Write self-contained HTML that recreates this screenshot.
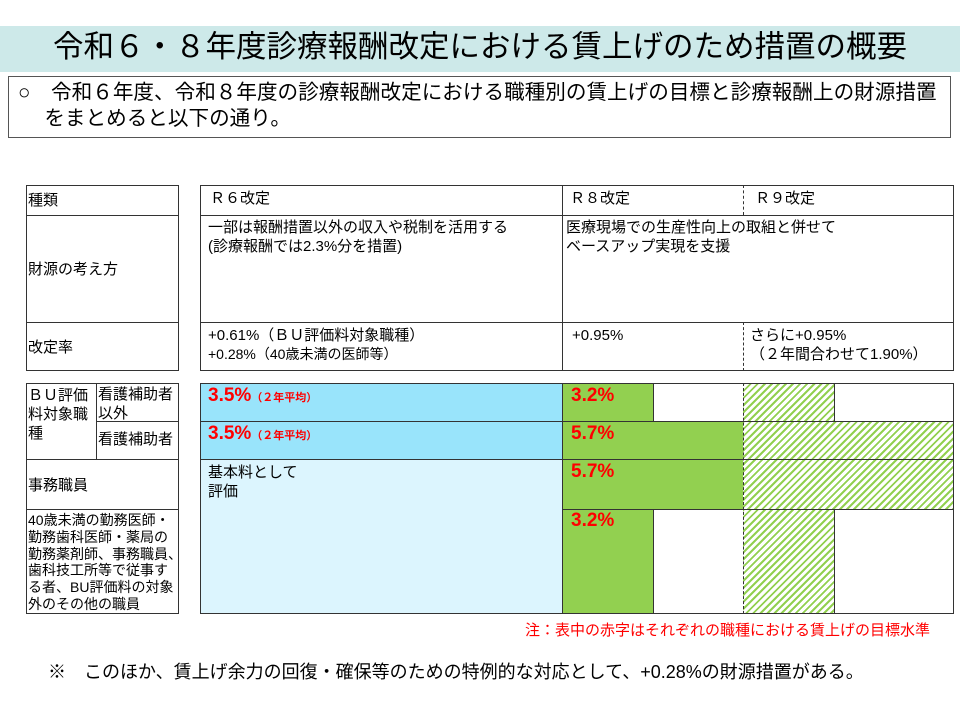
<!DOCTYPE html>
<html><head><meta charset="utf-8"><style>
*{margin:0;padding:0;box-sizing:border-box}
body{width:960px;height:720px;background:#fff;position:relative;font-family:"Liberation Sans","Noto Sans CJK JP",sans-serif;color:#000;overflow:hidden}
.a{position:absolute}
.b{border:1.5px solid #333}
.t{font-size:15px;line-height:19px}
.r{color:#f00;font-weight:bold;font-size:19px}
.r small{font-size:11px}
.h{background:repeating-linear-gradient(135deg,#92d050 0 2px,#fff 2px 5px)}
.g{background:#92d050}
</style></head><body>
<div class="a" style="left:0;top:26px;width:960px;height:46px;background:#cde9e9"></div>
<div class="a" style="left:0;top:27px;width:960px;text-align:center;font-size:30.5px;line-height:40px;white-space:nowrap">令和６・８年度診療報酬改定における賃上げのため措置の概要</div>
<div class="a" style="left:8px;top:76px;width:943px;height:62px;border:1px solid #555"></div>
<div class="a" style="left:18px;top:80px;font-size:20.6px;line-height:26px;white-space:nowrap">○　令和６年度、令和８年度の診療報酬改定における職種別の賃上げの目標と診療報酬上の財源措置<br>　 をまとめると以下の通り。</div>

<div class="a b" style="left:26px;top:185px;width:153px;height:186px"></div>
<div class="a" style="left:26px;top:215px;width:153px;border-top:1.5px solid #333"></div>
<div class="a" style="left:26px;top:322px;width:153px;border-top:1.5px solid #333"></div>
<div class="a t" style="left:28px;top:191px">種類</div>
<div class="a t" style="left:28px;top:260px">財源の考え方</div>
<div class="a t" style="left:28px;top:338px">改定率</div>
<div class="a b" style="left:200px;top:185px;width:754px;height:186px"></div>
<div class="a" style="left:200px;top:215px;width:754px;border-top:1.5px solid #333"></div>
<div class="a" style="left:200px;top:322px;width:754px;border-top:1.5px solid #333"></div>
<div class="a" style="left:562px;top:185px;height:186px;border-left:1.5px solid #333"></div>
<div class="a" style="left:743px;top:185px;height:30px;border-left:1.5px dashed #333"></div>
<div class="a" style="left:743px;top:322px;height:49px;border-left:1.5px dashed #333"></div>
<div class="a t" style="left:210px;top:189px">Ｒ６改定</div>
<div class="a t" style="left:570px;top:189px">Ｒ８改定</div>
<div class="a t" style="left:755px;top:189px">Ｒ９改定</div>
<div class="a t" style="left:208px;top:218px">一部は報酬措置以外の収入や税制を活用する<br>(診療報酬では2.3%分を措置)</div>
<div class="a t" style="left:566px;top:218px">医療現場での生産性向上の取組と併せて<br>ベースアップ実現を支援</div>
<div class="a t" style="left:208px;top:326px">+0.61%（ＢＵ評価料対象職種）</div>
<div class="a" style="left:208px;top:345px;font-size:14px;line-height:18px">+0.28%（40歳未満の医師等）</div>
<div class="a t" style="left:572px;top:326px">+0.95%</div>
<div class="a t" style="left:750px;top:326px">さらに+0.95%<br>（２年間合わせて1.90%）</div>

<div class="a b" style="left:26px;top:383px;width:153px;height:231px"></div>
<div class="a" style="left:96px;top:383px;height:76px;border-left:1.5px solid #333"></div>
<div class="a" style="left:96px;top:421px;width:83px;border-top:1.5px solid #333"></div>
<div class="a" style="left:26px;top:459px;width:153px;border-top:1.5px solid #333"></div>
<div class="a" style="left:26px;top:509px;width:153px;border-top:1.5px solid #333"></div>
<div class="a t" style="left:28px;top:386px">ＢＵ評価<br>料対象職<br>種</div>
<div class="a t" style="left:98px;top:385px">看護補助者<br>以外</div>
<div class="a t" style="left:98px;top:430px">看護補助者</div>
<div class="a t" style="left:28px;top:476px">事務職員</div>
<div class="a" style="left:28px;top:512px;font-size:14px;line-height:16.8px;white-space:nowrap">40歳未満の勤務医師・<br>勤務歯科医師・薬局の<br>勤務薬剤師、事務職員、<br>歯科技工所等で従事す<br>る者、BU評価料の対象<br>外のその他の職員</div>

<div class="a" style="left:200px;top:383px;width:362px;height:76px;background:#99e4fb"></div>
<div class="a" style="left:200px;top:459px;width:362px;height:155px;background:#dcf5fe"></div>
<div class="a g" style="left:562px;top:383px;width:91px;height:38px"></div>
<div class="a g" style="left:562px;top:421px;width:181px;height:88px"></div>
<div class="a g" style="left:562px;top:509px;width:91px;height:105px"></div>
<div class="a h" style="left:743px;top:383px;width:91px;height:38px"></div>
<div class="a h" style="left:743px;top:421px;width:211px;height:88px"></div>
<div class="a h" style="left:743px;top:509px;width:91px;height:105px"></div>
<div class="a b" style="left:200px;top:383px;width:754px;height:231px"></div>
<div class="a" style="left:200px;top:421px;width:754px;border-top:1.5px solid #333"></div>
<div class="a" style="left:200px;top:459px;width:754px;border-top:1.5px solid #333"></div>
<div class="a" style="left:562px;top:509px;width:392px;border-top:1.5px solid #333"></div>
<div class="a" style="left:562px;top:383px;height:231px;border-left:1.5px solid #333"></div>
<div class="a" style="left:653px;top:383px;height:38px;border-left:1.5px solid #333"></div>
<div class="a" style="left:653px;top:509px;height:105px;border-left:1.5px solid #333"></div>
<div class="a" style="left:743px;top:383px;height:231px;border-left:1.5px dashed #333"></div>
<div class="a" style="left:834px;top:383px;height:38px;border-left:1.5px solid #333"></div>
<div class="a" style="left:834px;top:509px;height:105px;border-left:1.5px solid #333"></div>
<div class="a r" style="left:208px;top:385px">3.5%<small>（２年平均）</small></div>
<div class="a r" style="left:208px;top:423px">3.5%<small>（２年平均）</small></div>
<div class="a r" style="left:571px;top:385px">3.2%</div>
<div class="a r" style="left:571px;top:423px">5.7%</div>
<div class="a r" style="left:571px;top:461px">5.7%</div>
<div class="a r" style="left:571px;top:510px">3.2%</div>
<div class="a t" style="left:208px;top:463px">基本料として<br>評価</div>

<div class="a" style="left:430px;top:622px;width:500px;text-align:right;color:#f00;font-size:15px;line-height:18px">注：表中の赤字はそれぞれの職種における賃上げの目標水準</div>
<div class="a" style="left:48px;top:661px;font-size:18px;line-height:22px;white-space:nowrap">※　このほか、賃上げ余力の回復・確保等のための特例的な対応として、+0.28%の財源措置がある。</div>
</body></html>
